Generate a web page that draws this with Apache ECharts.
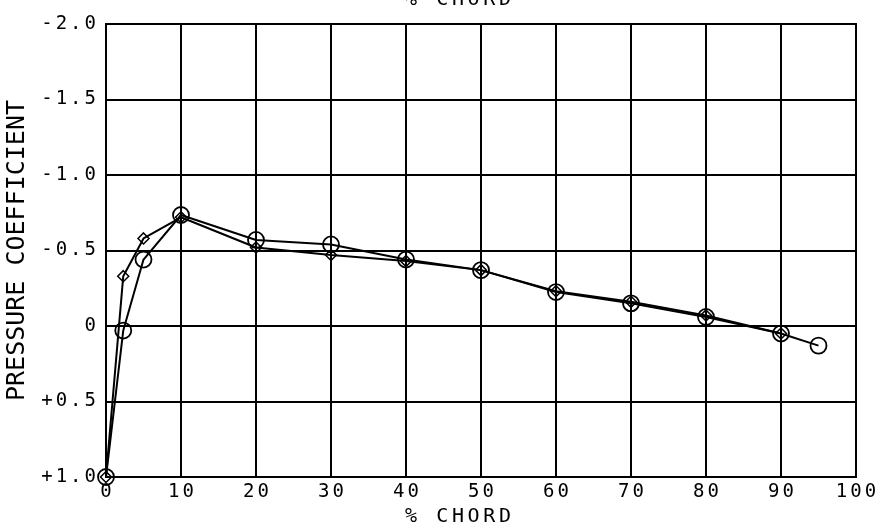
<!DOCTYPE html>
<html lang="en">
  <head>
    <meta charset="UTF-8" />
    <title>Pressure Coefficient vs Chord</title>
    <script src="https://cdn.jsdelivr.net/npm/echarts@6/dist/echarts.min.js"></script>
    <style>
      body { margin: 0; background-color: #ffffff; }
      #main { width: 886px; height: 529px; }
    </style>
  </head>
  <body>
    <div id="main"></div>
    <script>
      // % chord stations and pressure coefficients
      const chordA = [0, 2.3, 5, 10, 20, 30, 40, 50, 60, 70, 80, 90, 95];
      const cpA = [1.0, 0.03, -0.44, -0.735, -0.57, -0.54, -0.44, -0.37, -0.225, -0.15, -0.06, 0.05, 0.13];
      const chordB = [0, 2.3, 5, 10, 20, 30, 40, 50, 60, 70, 80, 90];
      const cpB = [1.0, -0.33, -0.58, -0.72, -0.52, -0.47, -0.43, -0.37, -0.23, -0.16, -0.07, 0.05];

      const FONT = "DejaVu Sans Mono";
      // plotter-like letter spacing: a tiny rich-text gap between characters
      const spaced = s => s.split("").join("{g| }");
      const gapRich = { g: { fontFamily: FONT, fontSize: 5 } };

      // y tick labels: -2.0 ... 0 ... +1.0
      function cpLabel(v) {
        if (Math.abs(v) < 1e-9) return "0";
        const s = Math.abs(v).toFixed(1);
        return spaced((v > 0 ? "+" : "-") + s);
      }

      const chart = echarts.init(document.getElementById("main"));

      const titleStyle = {
        fontFamily: FONT, fontSize: 20, fontWeight: "normal", color: "#000",
        rich: { g: { fontFamily: FONT, fontSize: 6 } },
      };

      const option = {
        animation: false,
        title: [
          { text: spaced("% CHORD"), left: 400, top: -15, textStyle: titleStyle },
          { text: spaced("% CHORD"), left: 400, top: 502, textStyle: titleStyle },
        ],
        grid: {
          left: 106,
          right: 30,
          top: 24,
          bottom: 52,
          outerBoundsMode: "none",
          containLabel: false,
          show: true,
          borderColor: "#000",
          borderWidth: 2,
        },
        xAxis: {
          type: "value",
          min: 0,
          max: 100,
          interval: 10,
          axisLine: { show: false },
          axisTick: { show: false },
          splitLine: { show: true, lineStyle: { color: "#000", width: 2 } },
          axisLabel: {
            margin: 6,
            fontFamily: FONT,
            fontSize: 19,
            color: "#000",
            rich: gapRich,
            formatter: v => spaced(String(v)),
          },
        },
        yAxis: {
          type: "value",
          inverse: true,
          min: -2,
          max: 1,
          interval: 0.5,
          name: "PRESSURE COEFFICIENT",
          nameLocation: "middle",
          nameGap: 70,
          nameTextStyle: { fontFamily: FONT, fontSize: 25, color: "#000" },
          axisLine: { show: false },
          axisTick: { show: false },
          splitLine: { show: true, lineStyle: { color: "#000", width: 2 } },
          axisLabel: {
            margin: 10,
            fontFamily: FONT,
            fontSize: 19,
            color: "#000",
            rich: gapRich,
            formatter: cpLabel,
          },
        },
        series: [
          {
            name: "B",
            type: "line",
            data: chordB.map((x, i) => [x, cpB[i]]),
            symbol: "diamond",
            symbolSize: 11,
            lineStyle: { color: "#000", width: 2 },
            itemStyle: { color: "transparent", borderColor: "#000", borderWidth: 1.5 },
          },
          {
            name: "A",
            type: "line",
            data: chordA.map((x, i) => [x, cpA[i]]),
            symbol: "circle",
            symbolSize: 16,
            lineStyle: { color: "#000", width: 2 },
            itemStyle: { color: "transparent", borderColor: "#000", borderWidth: 1.8 },
          },
        ],
      };

      chart.setOption(option);
    </script>
  </body>
</html>
